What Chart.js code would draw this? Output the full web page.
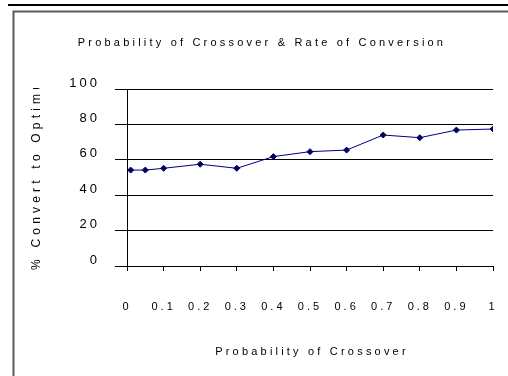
<!DOCTYPE html>
<html>
<head>
<meta charset="utf-8">
<script src="https://cdn.jsdelivr.net/npm/chart.js@4"></script>
<style>
  html, body { margin: 0; padding: 0; background: #ffffff; }
  canvas { display: block; }
</style>
</head>
<body>
<canvas id="c" width="508" height="376"></canvas>
<script>
const crossoverProb = [0.01, 0.05, 0.1, 0.2, 0.3, 0.4, 0.5, 0.6, 0.7, 0.8, 0.9, 1.0];
const convertPct = [54.2, 54.2, 55.2, 57.5, 55.2, 61.8, 64.6, 65.5, 74.0, 72.5, 76.8, 77.4];
const xTickValues = [0, 0.1, 0.2, 0.3, 0.4, 0.5, 0.6, 0.7, 0.8, 0.9, 1];
const chartTitle = 'Probability of Crossover & Rate of Conversion';
const xTitle = 'Probability of Crossover';
const yTitle = '% Convert to Optimum';

const FONT = '"Liberation Sans", Arial, sans-serif';

const framePlugin = {
  id: 'frame',
  beforeDraw(chart) {
    const ctx = chart.ctx;
    ctx.save();
    ctx.fillStyle = '#ffffff';
    ctx.fillRect(0, 0, chart.width, chart.height);
    ctx.strokeStyle = '#000000';
    ctx.lineWidth = 2;
    ctx.beginPath();
    ctx.moveTo(8, 5); ctx.lineTo(chart.width, 5);
    ctx.stroke();
    ctx.strokeStyle = '#5a5a5a';
    ctx.lineWidth = 2;
    ctx.beginPath();
    ctx.moveTo(13.5, chart.height); ctx.lineTo(13.5, 11.5); ctx.lineTo(chart.width, 11.5);
    ctx.stroke();
    ctx.restore();
    // letter spacing for tick labels
    ctx.letterSpacing = '3px';
  },
  afterDraw(chart) {
    const ctx = chart.ctx;
    const area = chart.chartArea;
    ctx.save();
    ctx.fillStyle = '#000000';
    // main title
    ctx.letterSpacing = '3.2px';
    ctx.font = '11px ' + FONT;
    ctx.textAlign = 'center';
    ctx.textBaseline = 'middle';
    ctx.fillText(chartTitle, 262, 43);
    // x axis title
    ctx.letterSpacing = '3.2px';
    ctx.fillText(xTitle, (area.left + area.right) / 2 + 2, 352);
    ctx.restore();
    // y axis title (clipped at the top like the original)
    ctx.save();
    ctx.beginPath();
    ctx.rect(0, 88, 120, chart.height - 88);
    ctx.clip();
    ctx.translate(37, 270);
    ctx.rotate(-Math.PI / 2);
    ctx.letterSpacing = '4.2px';
    ctx.font = '12px ' + FONT;
    ctx.fillStyle = '#000000';
    ctx.textAlign = 'left';
    ctx.textBaseline = 'middle';
    ctx.fillText(yTitle, 0, 0);
    ctx.restore();
    ctx.letterSpacing = '0px';
  }
};

const points = crossoverProb.map((x, i) => ({ x: x, y: convertPct[i] }));

new Chart(document.getElementById('c'), {
  type: 'scatter',
  data: {
    datasets: [{
      data: points,
      showLine: true,
      borderColor: '#000080',
      borderWidth: 1,
      backgroundColor: '#000060',
      pointBackgroundColor: '#000060',
      pointBorderColor: '#000060',
      pointStyle: 'rectRot',
      pointRadius: 3,
      pointBorderWidth: 1,
      tension: 0
    }]
  },
  plugins: [framePlugin],
  options: {
    responsive: false,
    animation: false,
    events: [],
    layout: { padding: { left: 0, right: 15, top: 89, bottom: 0 } },
    plugins: {
      legend: { display: false },
      title: { display: false },
      tooltip: { enabled: false }
    },
    scales: {
      x: {
        type: 'linear',
        min: 0,
        max: 1,
        afterFit(scale) {
          scale.height = 110;
          scale.paddingLeft = 0;
          scale.paddingRight = 0;
        },
        afterBuildTicks(scale) {
          scale.ticks = xTickValues.map(v => ({ value: v }));
        },
        ticks: {
          autoSkip: false,
          maxRotation: 0,
          minRotation: 0,
          padding: 29,
          color: '#000000',
          font: { family: FONT, size: 11 },
          callback: v => String(+Number(v).toFixed(1))
        },
        grid: {
          drawOnChartArea: false,
          drawTicks: true,
          tickLength: 5,
          color: '#000000',
          lineWidth: 1
        },
        border: { display: true, color: '#000000', width: 1 }
      },
      y: {
        min: 0,
        max: 100,
        afterFit(scale) {
          scale.width = 127;
          scale.paddingTop = 0;
          scale.paddingBottom = 0;
        },
        ticks: {
          stepSize: 20,
          padding: 15,
          labelOffset: -6,
          color: '#000000',
          font: { family: FONT, size: 13 }
        },
        grid: {
          drawTicks: true,
          tickLength: 12,
          color: '#000000',
          lineWidth: 1
        },
        border: { display: true, color: '#000000', width: 1 }
      }
    }
  }
});
</script>
</body>
</html>
